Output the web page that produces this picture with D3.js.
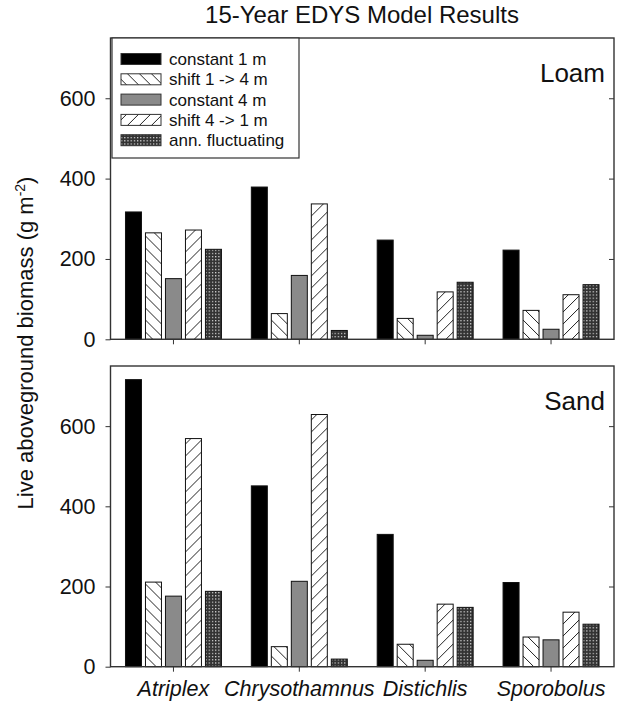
<!DOCTYPE html>
<html>
<head>
<meta charset="utf-8">
<script src="https://cdn.jsdelivr.net/npm/d3@7"></script>
<style>
  body { margin: 0; background: #fff; }
  svg { font-family: "Liberation Sans", Arial, sans-serif; }
</style>
</head>
<body>
<svg id="chart" width="620" height="708"></svg>
<script>
const species = ['Atriplex', 'Chrysothamnus', 'Distichlis', 'Sporobolus']
const treatments = ['constant 1 m', 'shift 1 -> 4 m', 'constant 4 m', 'shift 4 -> 1 m', 'ann. fluctuating']
const yTicks = [0, 200, 400, 600]

// Loam, one array per treatment (species order)
const loamConst1 = [317, 379, 247, 222]
const loamShift14 = [265, 64, 52, 72]
const loamConst4 = [151, 159, 10, 25]
const loamShift41 = [272, 337, 118, 111]
const loamFluct = [224, 22, 142, 136]

// Sand
const sandConst1 = [716, 451, 330, 210]
const sandShift14 = [211, 50, 56, 74]
const sandConst4 = [176, 213, 16, 67]
const sandShift41 = [569, 629, 156, 136]
const sandFluct = [188, 19, 148, 106]

const svg = d3.select('#chart')

// patterns
const defs = svg.append('defs')
const back = defs.append('pattern').attr('id', 'back')
  .attr('patternUnits', 'userSpaceOnUse').attr('width', 12).attr('height', 12)
back.append('rect').attr('width', 12).attr('height', 12).attr('fill', '#fff')
back.append('path').attr('d', 'M0,0L12,12M-3,9L3,15M9,-3L15,3')
  .attr('stroke', '#222').attr('stroke-width', 1)

const fwd = defs.append('pattern').attr('id', 'fwd')
  .attr('patternUnits', 'userSpaceOnUse').attr('width', 12).attr('height', 12)
fwd.append('rect').attr('width', 12).attr('height', 12).attr('fill', '#fff')
fwd.append('path').attr('d', 'M0,12L12,0M-3,3L3,-3M9,15L15,9')
  .attr('stroke', '#222').attr('stroke-width', 1)

const check = defs.append('pattern').attr('id', 'check')
  .attr('patternUnits', 'userSpaceOnUse').attr('width', 3.2).attr('height', 3.2)
check.append('rect').attr('width', 3.2).attr('height', 3.2).attr('fill', '#333')
check.append('rect').attr('width', 1.2).attr('height', 1.2).attr('fill', '#ddd')

const fills = ['#000', 'url(#back)', '#8a8a8a', 'url(#fwd)', 'url(#check)']

const left = 110.5, right = 614

const x0 = d3.scaleBand().domain(species).range([left, right])
  .paddingInner(0.2375).paddingOuter(0.119)
const x1 = d3.scaleBand().domain(d3.range(treatments.length))
  .range([0, x0.bandwidth()]).paddingInner(0.2)

svg.append('text')
  .attr('x', 362).attr('y', 23)
  .attr('text-anchor', 'middle')
  .attr('font-size', 24)
  .attr('fill', '#111')
  .text('15-Year EDYS Model Results')

function drawPanel(top, bottom, name, series, showLabels) {
  const y = d3.scaleLinear().domain([0, 750]).range([bottom, top])
  const g = svg.append('g')

  const rows = species.map((s, i) => ({ s, vals: series.map(arr => arr[i]) }))

  g.selectAll('g.grp')
    .data(rows)
    .enter()
    .append('g')
    .attr('transform', d => `translate(${x0(d.s)},0)`)
    .selectAll('rect')
    .data(d => d.vals)
    .enter()
    .append('rect')
    .attr('x', (d, i) => x1(i))
    .attr('width', x1.bandwidth())
    .attr('y', d => y(d))
    .attr('height', d => y(0) - y(d))
    .attr('fill', (d, i) => fills[i])
    .attr('stroke', '#111')
    .attr('stroke-width', 1)

  // frame
  g.append('rect')
    .attr('x', left).attr('y', top)
    .attr('width', right - left).attr('height', bottom - top)
    .attr('fill', 'none').attr('stroke', '#333').attr('stroke-width', 1.4)

  const yAxis = g.append('g')
    .attr('transform', `translate(${left},0)`)
    .call(d3.axisLeft(y).tickValues(yTicks).tickSize(5).tickPadding(10))
  yAxis.select('.domain').remove()
  yAxis.selectAll('text').attr('font-size', 21.5).attr('fill', '#111')
    .attr('font-family', '"Liberation Sans", Arial, sans-serif')
  yAxis.selectAll('line').attr('stroke', '#333')

  const yRight = g.append('g')
    .attr('transform', `translate(${right},0)`)
    .call(d3.axisLeft(y).tickValues(yTicks.slice(1)).tickSize(5).tickFormat(''))
  yRight.select('.domain').remove()
  yRight.selectAll('line').attr('stroke', '#333')

  const xAxis = g.append('g')
    .attr('transform', `translate(0,${bottom})`)
    .call(d3.axisBottom(x0).tickSize(5).tickPadding(9)
      .tickFormat(showLabels ? (d => d) : ''))
  xAxis.select('.domain').remove()
  xAxis.selectAll('line').attr('stroke', '#333')
  xAxis.selectAll('text').attr('font-size', 21.5).attr('font-style', 'italic')
    .attr('fill', '#111')
    .attr('font-family', '"Liberation Sans", Arial, sans-serif')

  g.append('text')
    .attr('x', 605).attr('y', top + 44)
    .attr('text-anchor', 'end')
    .attr('font-size', 26)
    .attr('fill', '#111')
    .text(name)
}

drawPanel(38, 339.3, 'Loam',
  [loamConst1, loamShift14, loamConst4, loamShift41, loamFluct], false)
drawPanel(366, 666.7, 'Sand',
  [sandConst1, sandShift14, sandConst4, sandShift41, sandFluct], true)

// legend
const lg = svg.append('g').attr('transform', 'translate(112,38)')
lg.append('rect').attr('width', 187).attr('height', 120)
  .attr('fill', '#fff').attr('stroke', '#333').attr('stroke-width', 1.2)
const items = lg.selectAll('g.item')
  .data(treatments)
  .enter()
  .append('g')
  .attr('transform', (d, i) => `translate(9,${21 + i * 20.3})`)
items.append('rect')
  .attr('x', 0).attr('y', -5.5).attr('width', 40).attr('height', 11)
  .attr('fill', (d, i) => fills[i])
  .attr('stroke', '#333').attr('stroke-width', 1)
items.append('text')
  .attr('x', 48).attr('y', 6)
  .attr('font-size', 17)
  .attr('fill', '#111')
  .text(d => d)

// y label
svg.append('text')
  .attr('transform', 'translate(33,343) rotate(-90)')
  .attr('text-anchor', 'middle')
  .attr('font-size', 22)
  .attr('fill', '#111')
  .html('Live aboveground biomass (g m<tspan baseline-shift="super" font-size="14">-2</tspan>)')
</script>
</body>
</html>
